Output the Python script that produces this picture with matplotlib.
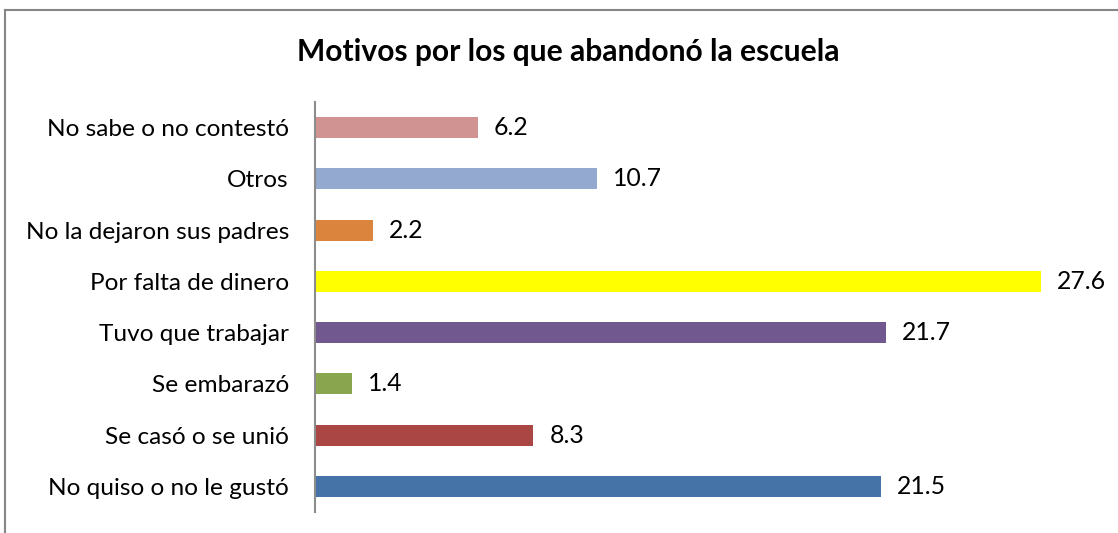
import matplotlib
matplotlib.use("Agg")
import matplotlib.pyplot as plt
from matplotlib.lines import Line2D

categories = ["No quiso o no le gustó", "Se casó o se unió", "Se embarazó",
              "Tuvo que trabajar", "Por falta de dinero", "No la dejaron sus padres",
              "Otros", "No sabe o no contestó"]
values = [21.5, 8.3, 1.4, 21.7, 27.6, 2.2, 10.7, 6.2]
value_labels = ["21.5", "8.3", "1.4", "21.7", "27.6", "2.2", "10.7", "6.2"]
colors = ["#4572A7", "#AA4643", "#89A54E", "#71588F", "#FFFF00", "#DB843D",
          "#93A9CF", "#D19392"]
title = "Motivos por los que abandonó la escuela"

plt.rcParams['font.family'] = ['Lato', 'DejaVu Sans']

W, H = 1118, 533
fig = plt.figure(figsize=(W / 100, H / 100), dpi=100)
ax = fig.add_axes([315 / W, 1 - 512 / H, (1099 - 315) / W, (512 - 102) / H])

y = list(range(len(categories)))
ax.barh(y, values, height=0.41, color=colors)
ax.set_xlim(0, 29.8)
ax.set_ylim(-0.5, len(categories) - 0.5)
ax.set_yticks(y)
ax.set_yticklabels(categories, fontsize=17.6, color="#000000")
ax.tick_params(axis='y', length=0, pad=26 * 72 / 100)
ax.set_xticks([])
for s in ["top", "right", "bottom"]:
    ax.spines[s].set_visible(False)
ax.spines["left"].set_color("#8C8C8C")
ax.spines["left"].set_linewidth(1.5)

for yi, v, lab in zip(y, values, value_labels):
    ax.annotate(lab, xy=(v, yi), xytext=(16 * 72 / 100, 0), textcoords="offset points",
                ha="left", va="center", fontsize=17.8, color="#000000")

fig.text(568 / W, 1 - 52 / H, title, ha="center", va="center",
         fontsize=21.6, fontweight="bold", color="#000000")

# outer chart border (top and left visible)
fig.add_artist(Line2D([5 / W, 1.0], [1 - 9.5 / H, 1 - 9.5 / H], transform=fig.transFigure,
                      color="#868686", linewidth=1.5))
fig.add_artist(Line2D([5 / W, 5 / W], [1 - 9.5 / H, 0.0], transform=fig.transFigure,
                      color="#868686", linewidth=1.5))

fig.savefig("out.png", dpi=100)
